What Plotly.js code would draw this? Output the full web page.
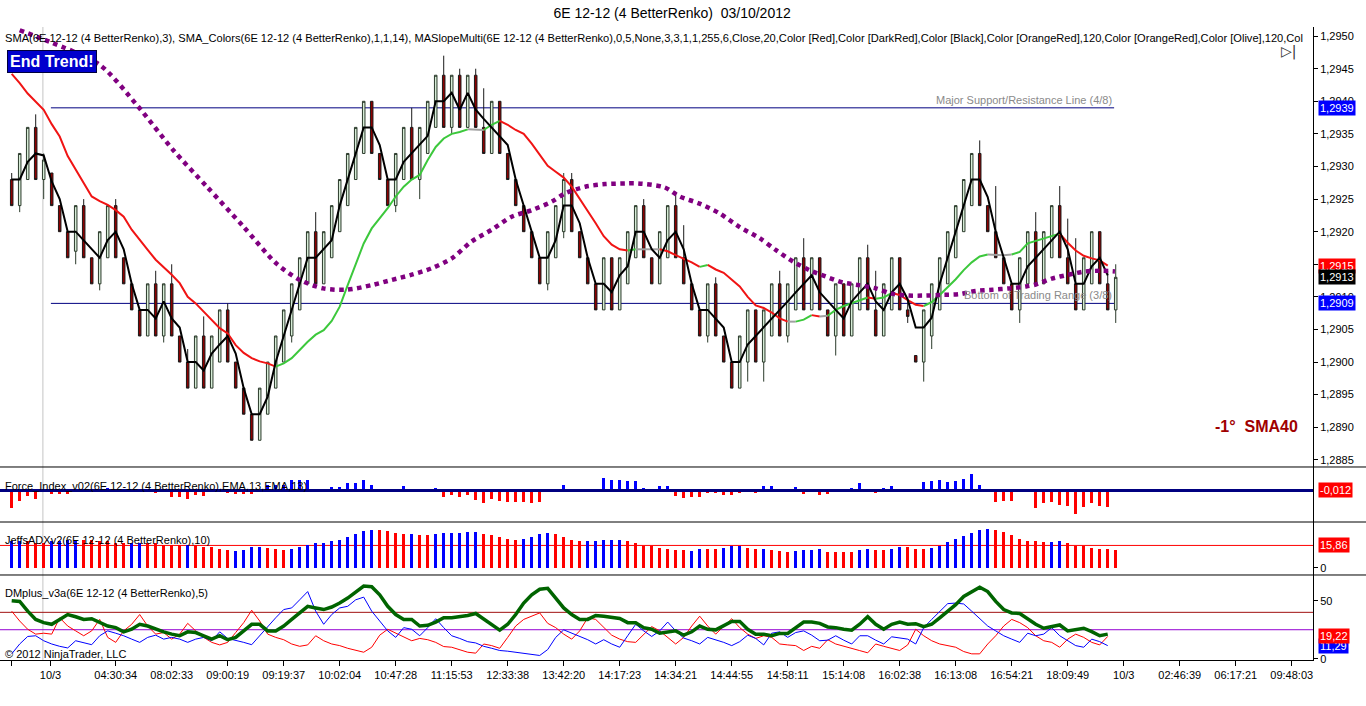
<!DOCTYPE html>
<html>
<head>
<meta charset="utf-8">
<script src="https://cdn.plot.ly/plotly-3.0.1.min.js"></script>
<style>
  html, body { margin: 0; padding: 0; background: #fff; }
  #chart { width: 1366px; height: 706px; }
</style>
</head>
<body>
<div id="chart"></div>
<script>
// ---- renko bars (6E 12-12, 4 tick BetterRenko) ----
const opens = [
  1.2928, 1.2924, 1.2928, 1.2936, 1.2928, 1.2929, 1.2924, 1.2920, 1.2917, 1.2924,
  1.2916, 1.2912, 1.2916, 1.2924, 1.2916, 1.2912, 1.2908, 1.2904, 1.2912, 1.2904,
  1.2912, 1.2904, 1.2900, 1.2896, 1.2904, 1.2896, 1.2900, 1.2908, 1.2900, 1.2896,
  1.2892, 1.2888, 1.2892, 1.2896, 1.2900, 1.2904, 1.2908, 1.2912, 1.2920, 1.2912,
  1.2916, 1.2920, 1.2924, 1.2928, 1.2932, 1.2940, 1.2932, 1.2928, 1.2924, 1.2928,
  1.2936, 1.2928, 1.2932, 1.2936, 1.2944, 1.2936, 1.2944, 1.2936, 1.2944, 1.2936,
  1.2932, 1.2940, 1.2932, 1.2928, 1.2924, 1.2920, 1.2916, 1.2912, 1.2916, 1.2920,
  1.2928, 1.2920, 1.2916, 1.2912, 1.2908, 1.2916, 1.2908, 1.2912, 1.2916, 1.2924,
  1.2916, 1.2912, 1.2916, 1.2924, 1.2916, 1.2912, 1.2908, 1.2904, 1.2912, 1.2904,
  1.2900, 1.2896, 1.2900, 1.2908, 1.2900, 1.2904, 1.2912, 1.2904, 1.2908, 1.2916,
  1.2908, 1.2916, 1.2908, 1.2904, 1.2912, 1.2904, 1.2908, 1.2916, 1.2908, 1.2904,
  1.2908, 1.2916, 1.2908, 1.2901, 1.2900, 1.2904, 1.2908, 1.2912, 1.2916, 1.2920,
  1.2924, 1.2932, 1.2924, 1.2920, 1.2916, 1.2912, 1.2908, 1.2912, 1.2920, 1.2912,
  1.2916, 1.2924, 1.2916, 1.2912, 1.2908, 1.2912, 1.2920, 1.2912, 1.2908
];
const highs = [
  1.2929, 1.2932, 1.2936, 1.2938, 1.2932, 1.2929, 1.2924, 1.2920, 1.2924, 1.2925,
  1.2916, 1.2920, 1.2924, 1.2925, 1.2916, 1.2912, 1.2908, 1.2912, 1.2914, 1.2912,
  1.2915, 1.2904, 1.2902, 1.2904, 1.2907, 1.2904, 1.2908, 1.2909, 1.2900, 1.2896,
  1.2892, 1.2896, 1.2900, 1.2904, 1.2908, 1.2912, 1.2916, 1.2920, 1.2923, 1.2920,
  1.2924, 1.2928, 1.2932, 1.2936, 1.2940, 1.2940, 1.2932, 1.2928, 1.2932, 1.2936,
  1.2939, 1.2936, 1.2940, 1.2944, 1.2947, 1.2944, 1.2945, 1.2944, 1.2945, 1.2942,
  1.2940, 1.2940, 1.2932, 1.2928, 1.2924, 1.2920, 1.2916, 1.2920, 1.2924, 1.2929,
  1.2929, 1.2920, 1.2916, 1.2912, 1.2916, 1.2916, 1.2916, 1.2920, 1.2924, 1.2925,
  1.2916, 1.2920, 1.2924, 1.2926, 1.2921, 1.2912, 1.2908, 1.2912, 1.2913, 1.2904,
  1.2900, 1.2904, 1.2908, 1.2908, 1.2908, 1.2912, 1.2914, 1.2912, 1.2916, 1.2919,
  1.2916, 1.2916, 1.2908, 1.2912, 1.2912, 1.2912, 1.2916, 1.2918, 1.2914, 1.2912,
  1.2916, 1.2916, 1.29095, 1.2901, 1.2908, 1.2912, 1.2916, 1.2920, 1.2924, 1.2928,
  1.2932, 1.2934, 1.2924, 1.2927, 1.2916, 1.2912, 1.2916, 1.2920, 1.2923, 1.2920,
  1.2924, 1.2927, 1.2922, 1.2919, 1.2916, 1.2920, 1.2920, 1.2914, 1.2915
];
const lows = [
  1.2924, 1.2923, 1.2928, 1.2928, 1.2925, 1.2924, 1.2920, 1.2916, 1.2915, 1.2916,
  1.2912, 1.2911, 1.2916, 1.2916, 1.2912, 1.2908, 1.2904, 1.2904, 1.2904, 1.2903,
  1.2904, 1.2900, 1.2896, 1.2896, 1.2896, 1.2896, 1.2900, 1.2900, 1.2896, 1.2892,
  1.2888, 1.2888, 1.2892, 1.2896, 1.2900, 1.2903, 1.2908, 1.2912, 1.2912, 1.2912,
  1.2916, 1.2920, 1.2924, 1.2928, 1.2932, 1.2932, 1.2928, 1.2924, 1.2923, 1.2928,
  1.2928, 1.2925, 1.2932, 1.2936, 1.2936, 1.2935, 1.2936, 1.2936, 1.2936, 1.2932,
  1.2932, 1.2932, 1.2928, 1.2924, 1.2920, 1.2916, 1.2912, 1.2911, 1.2916, 1.2919,
  1.2920, 1.2916, 1.2912, 1.2908, 1.2908, 1.2908, 1.2908, 1.2912, 1.2916, 1.2916,
  1.2912, 1.2912, 1.2916, 1.2916, 1.2912, 1.2908, 1.2904, 1.2903, 1.2904, 1.2900,
  1.2896, 1.2896, 1.2897, 1.2900, 1.2897, 1.2904, 1.2904, 1.2903, 1.2908, 1.2908,
  1.2908, 1.2908, 1.2904, 1.2901, 1.2904, 1.2904, 1.2908, 1.2908, 1.2904, 1.2904,
  1.2908, 1.2908, 1.2906, 1.2900, 1.2897, 1.2902, 1.2908, 1.2912, 1.2916, 1.2920,
  1.2924, 1.2924, 1.2920, 1.2916, 1.2912, 1.2908, 1.2906, 1.2912, 1.2912, 1.2912,
  1.2916, 1.2916, 1.2912, 1.2908, 1.2908, 1.2912, 1.2912, 1.2908, 1.2906
];
const closes = [
  1.2924, 1.2932, 1.2936, 1.2928, 1.2931, 1.2924, 1.2920, 1.2916, 1.2924, 1.2916,
  1.2912, 1.2920, 1.2924, 1.2916, 1.2912, 1.2908, 1.2904, 1.2912, 1.2904, 1.2912,
  1.2904, 1.2900, 1.2896, 1.2904, 1.2896, 1.2904, 1.2908, 1.2900, 1.2896, 1.2892,
  1.2888, 1.2896, 1.2900, 1.2904, 1.2908, 1.2912, 1.2916, 1.2920, 1.2912, 1.2920,
  1.2924, 1.2928, 1.2932, 1.2936, 1.2940, 1.2932, 1.2928, 1.2924, 1.2932, 1.2936,
  1.2928, 1.2936, 1.2940, 1.2944, 1.2936, 1.2944, 1.2936, 1.2944, 1.2936, 1.2932,
  1.2940, 1.2932, 1.2928, 1.2924, 1.2920, 1.2916, 1.2912, 1.2920, 1.2924, 1.2928,
  1.2920, 1.2916, 1.2912, 1.2908, 1.2916, 1.2908, 1.2916, 1.2920, 1.2924, 1.2916,
  1.2912, 1.2920, 1.2924, 1.2916, 1.2912, 1.2908, 1.2904, 1.2912, 1.2904, 1.2900,
  1.2896, 1.2904, 1.2908, 1.2900, 1.2908, 1.2912, 1.2904, 1.2912, 1.2916, 1.2908,
  1.2916, 1.2908, 1.2904, 1.2912, 1.2904, 1.2912, 1.2916, 1.2908, 1.2904, 1.2912,
  1.2916, 1.2908, 1.2907, 1.2900, 1.2908, 1.2912, 1.2916, 1.2920, 1.2924, 1.2928,
  1.2932, 1.2924, 1.2920, 1.2916, 1.2912, 1.2908, 1.2916, 1.2920, 1.2912, 1.2920,
  1.2924, 1.2916, 1.2912, 1.2908, 1.2916, 1.2920, 1.2912, 1.2908, 1.2913
];

// SMA(3) - black line
const sma3 = [
  1.2928, 1.2928, 1.29307, 1.2932, 1.29317, 1.29277, 1.2925, 1.2920, 1.2920, 1.29187,
  1.29173, 1.2916, 1.29187, 1.2920, 1.29173, 1.2912, 1.2908, 1.2908, 1.29067, 1.29093,
  1.29067, 1.29053, 1.2900, 1.2900, 1.28987, 1.29013, 1.29027, 1.2904, 1.29013, 1.2896,
  1.2892, 1.2892, 1.28947, 1.2900, 1.2904, 1.2908, 1.2912, 1.2916, 1.2916, 1.29173,
  1.29187, 1.2924, 1.2928, 1.2932, 1.2936, 1.2936, 1.29333, 1.2928, 1.2928, 1.29307,
  1.2932, 1.29333, 1.29347, 1.2940, 1.2940, 1.29413, 1.29387, 1.29413, 1.29387, 1.29373,
  1.2936, 1.29347, 1.29333, 1.2928, 1.2924, 1.2920, 1.2916, 1.2916, 1.29187, 1.2924,
  1.2924, 1.29213, 1.2916, 1.2912, 1.2912, 1.29107, 1.29133, 1.29147, 1.2920, 1.2920,
  1.29173, 1.2916, 1.29187, 1.2920, 1.29173, 1.2912, 1.2908, 1.2908, 1.29067, 1.29053,
  1.2900, 1.2900, 1.29027, 1.2904, 1.29053, 1.29067, 1.2908, 1.29093, 1.29107, 1.2912,
  1.29133, 1.29107, 1.29093, 1.2908, 1.29067, 1.29093, 1.29107, 1.2912, 1.29093, 1.2908,
  1.29107, 1.2912, 1.29096, 1.29053, 1.29053, 1.29068, 1.2912, 1.2916, 1.2920, 1.2924,
  1.2928, 1.2928, 1.29253, 1.2920, 1.2916, 1.2912, 1.2912, 1.29147, 1.2916, 1.29173,
  1.29187, 1.2920, 1.29173, 1.2912, 1.2912, 1.29147, 1.2916, 1.29133, null
];

// SMA_Colors(14) - red / green / grey line
const smaColors = [
  1.29442, 1.29428, 1.29412, 1.29399, 1.29387, 1.29365, 1.29346, 1.29316, 1.29295, 1.29273,
  1.29254, 1.29247, 1.29241, 1.29233, 1.29223, 1.29203, 1.29187, 1.29172, 1.29157, 1.29146,
  1.29134, 1.29121, 1.29100, 1.29090, 1.29077, 1.29065, 1.29052, 1.29044, 1.29026, 1.29014,
  1.29006, 1.29001, 1.28998, 1.28993, 1.28998, 1.29006, 1.29019, 1.29031, 1.29042, 1.29049,
  1.29063, 1.29085, 1.29118, 1.29151, 1.29182, 1.29205, 1.29220, 1.29236, 1.29254, 1.29269,
  1.29280, 1.29287, 1.29310, 1.29330, 1.29343, 1.29350, 1.29353, 1.29357, 1.29357, 1.29356,
  1.29364, 1.29370, 1.29364, 1.29356, 1.29350, 1.29335, 1.29318, 1.29301, 1.29292, 1.29283,
  1.29269, 1.29251, 1.29231, 1.29213, 1.29193, 1.29180, 1.29173, 1.29171, 1.29173, 1.29173,
  1.29173, 1.29173, 1.29170, 1.29164, 1.29159, 1.29153, 1.29146, 1.29149, 1.29142, 1.29137,
  1.29126, 1.29116, 1.29100, 1.29087, 1.29083, 1.29076, 1.29067, 1.29062, 1.29062, 1.29065,
  1.29072, 1.29070, 1.29071, 1.29080, 1.29086, 1.29090, 1.29095, 1.29099, 1.29097, 1.29099,
  1.29106, 1.29103, 1.29095, 1.29088, 1.29086, 1.29092, 1.29103, 1.29115, 1.29127, 1.29141,
  1.29153, 1.29162, 1.29165, 1.29164, 1.29164, 1.29165, 1.29169, 1.29182, 1.29186, 1.29190,
  1.29194, 1.29197, 1.29183, 1.29171, 1.29163, 1.29159, 1.29156, 1.29148, null
];

// MASlopeMulti - purple dotted line, read at these bar positions
const purpleX = [1, 4.8, 11.0, 15.8, 20.2, 24.4, 28.95, 33.1, 36.0, 38.95, 41.9,
  45, 47.5, 50, 52.5, 55, 57.5, 60, 62.5, 65, 67.5, 69.2, 71.7, 74.2, 76.7, 78.3, 81.6,
  83.5, 86, 88.5, 91, 93.5, 95.5, 97.7, 99.7, 101.8, 103.9, 105.9, 108, 110, 112.1, 114.2, 116.3,
  118.4, 120.5, 122.6, 124.7, 126.8, 128, 130, 132.1, 134.2, 136.3, 137.9];
const purpleY = [1.29509, 1.29491, 1.29456, 1.29392, 1.29325, 1.29269, 1.29208, 1.29151, 1.29126, 1.29113, 1.29111,
  1.29118, 1.29126, 1.29134, 1.29144, 1.29159, 1.29185, 1.29203, 1.29223, 1.29233, 1.29246,
  1.29259, 1.29269, 1.29273, 1.29274, 1.29274, 1.29268,
  1.29254, 1.29243, 1.29228, 1.29207, 1.29190, 1.29172, 1.29154, 1.29141, 1.29131, 1.29122, 1.29118,
  1.29113, 1.29105, 1.29102, 1.29102, 1.29103,
  1.29104, 1.29109, 1.29111, 1.29113, 1.29116, 1.29119, 1.29128, 1.29134, 1.29139, 1.29140, 1.29139];

// Force_Index_v02
const forceIdx = [
  -0.0127, -0.0074, -0.0038, -0.0060, 0, -0.0024, -0.0024, -0.0024, 0.0010, -0.0007,
  -0.0010, 0.0012, 0.0014, 0.0007, -0.0007, -0.0012, -0.0014, 0.0007, -0.0017, 0.0007,
  -0.0046, -0.0046, -0.0060, -0.0031, -0.0038, -0.0012, 0.0007, -0.0017, -0.0024, -0.0024,
  -0.0024, 0.0012, 0.0041, 0.0041, 0.0041, 0.0077, 0.0072, 0.0072, 0.0002, 0,
  0.0022, 0.0022, 0.0050, 0.0050, 0.0072, 0.0041, 0.0012, 0, 0.0012, 0.0029,
  0.0005, 0.0007, 0.0012, 0.0019, -0.0048, -0.0031, -0.0048, -0.0031, -0.0067, -0.0091,
  -0.0060, -0.0072, -0.0079, -0.0084, -0.0084, -0.0091, -0.0084, 0.0012, 0.0012, 0.0041,
  0, 0, 0.0002, -0.0007, 0.0091, 0.0072, 0.0072, 0.0065, 0.0065, 0.0019,
  0.0012, 0.0029, 0.0034, -0.0041, -0.0053, -0.0048, -0.0048, -0.0017, -0.0017, -0.0031,
  -0.0031, -0.0017, 0, -0.0017, 0.0034, 0.0034, 0, 0.0012, 0.0026, -0.0024,
  0, -0.0031, -0.0024, 0.0012, 0, 0.0019, 0.0053, 0, -0.0019, 0.0019,
  0.0029, 0.0010, 0, 0, 0.0060, 0.0067, 0.0072, 0.0060, 0.0065, 0.0084,
  0.0113, 0.0036, 0, -0.0084, -0.0077, -0.0077, 0, 0.0012, -0.0127, -0.0089,
  -0.0084, -0.0103, -0.0108, -0.0168, -0.0120, -0.0089, -0.0108, -0.0120, null
];

// JeffsADXv2(10) - value and trend direction (1 up, -1 down)
const adx = [
  18.7, 18.7, 18.7, 17.5, 17.5, 18.7, 18.7, 19.9, 19.9, 19.9,
  19.9, 18.7, 18.7, 17.5, 17.5, 17.5, 17.5, 17.5, 17.5, 16.3,
  16.3, 16.3, 16.3, 16.3, 15.1, 15.1, 13.4, 12.7, 12.0, 12.7,
  15.1, 15.1, 14.4, 13.4, 12.7, 13.4, 15.1, 16.3, 17.5, 17.5,
  18.7, 19.9, 21.6, 24.0, 26.4, 27.1, 27.1, 25.9, 24.7, 24.0,
  24.0, 23.0, 23.0, 24.0, 24.7, 24.7, 24.7, 25.4, 25.4, 24.0,
  23.0, 21.6, 20.4, 19.7, 20.4, 21.6, 24.0, 24.7, 24.0, 21.6,
  19.7, 18.7, 18.7, 19.2, 19.9, 19.9, 19.9, 18.7, 17.5, 15.6,
  15.6, 14.4, 13.4, 12.7, 12.7, 12.2, 13.4, 13.4, 13.4, 13.9,
  15.6, 15.6, 14.4, 13.4, 13.4, 12.7, 12.0, 11.5, 12.0, 12.7,
  12.7, 13.2, 11.5, 11.5, 11.5, 11.5, 12.5, 13.4, 12.7, 12.7,
  13.4, 15.1, 15.1, 13.4, 13.4, 14.4, 15.8, 18.0, 20.4, 22.3,
  24.7, 27.1, 27.8, 27.1, 25.4, 23.0, 20.6, 19.2, 18.7, 18.0,
  18.0, 18.7, 17.3, 15.8, 15.8, 13.9, 13.4, 13.0, 12.5
];
const adxDir = [
  1, 1, -1, -1, -1, 1, 1, 1, 1, -1,
  -1, -1, -1, -1, -1, 1, 1, -1, -1, -1,
  -1, -1, 1, -1, -1, -1, -1, -1, 1, 1,
  1, 1, -1, -1, -1, 1, 1, 1, 1, 1,
  1, 1, 1, 1, 1, 1, -1, -1, -1, -1,
  1, -1, -1, 1, 1, 1, 1, 1, 1, -1,
  -1, -1, -1, -1, 1, 1, 1, 1, -1, -1,
  -1, -1, 1, 1, 1, 1, 1, -1, -1, -1,
  -1, -1, -1, -1, -1, 1, 1, -1, -1, 1,
  1, 1, -1, -1, 1, -1, -1, -1, 1, 1,
  1, 1, -1, -1, -1, -1, 1, 1, -1, -1,
  1, 1, -1, -1, -1, 1, 1, 1, 1, 1,
  1, 1, 1, -1, -1, -1, -1, -1, -1, -1,
  1, 1, -1, -1, -1, -1, -1, -1, -1
];
const adxLevel = 15.86;

// DMplus_v3a(5)
const dmAdx = [
  50.0, 49.4, 41.0, 33.9, 31.1, 29.7, 33.9, 38.1, 36.2, 33.9,
  34.5, 31.1, 28.2, 26.8, 23.2, 25.4, 29.7, 28.2, 25.4, 23.2,
  21.2, 19.8, 23.2, 22.6, 19.8, 16.9, 19.8, 16.4, 18.4, 24.0,
  29.7, 29.7, 24.0, 24.0, 28.2, 33.9, 39.5, 45.2, 43.8, 42.4,
  44.6, 48.0, 52.3, 57.9, 62.7, 62.1, 55.1, 45.2, 38.1, 33.9,
  33.9, 28.2, 28.8, 31.6, 35.3, 35.3, 36.2, 37.3, 39.0, 33.9,
  28.8, 24.6, 29.7, 38.1, 48.0, 55.1, 59.9, 60.7, 52.3, 43.8,
  38.1, 33.9, 33.9, 37.3, 36.7, 35.9, 34.7, 31.1, 31.1, 26.8,
  25.4, 22.0, 23.2, 24.0, 20.3, 23.2, 28.2, 25.4, 24.9, 28.2,
  32.2, 32.2, 25.4, 21.2, 21.2, 19.8, 21.8, 21.8, 26.8, 31.6,
  31.6, 30.5, 27.4, 26.8, 25.4, 24.6, 29.7, 36.2, 29.7, 25.4,
  29.7, 31.6, 29.7, 30.2, 27.7, 29.7, 35.3, 41.0, 46.6, 53.7,
  57.9, 61.6, 57.9, 49.4, 42.4, 39.5, 39.0, 33.9, 29.7, 26.3,
  27.7, 29.1, 24.0, 25.4, 26.3, 23.4, 19.8, 21.2, null
];
const dmPlus = [
  4.2, 12.7, 19.2, 19.8, 15.5, 12.7, 10.7, 9.3, 15.5, 14.1,
  12.1, 19.8, 24.0, 22.0, 19.8, 16.9, 14.1, 18.4, 20.3, 16.9,
  18.4, 16.9, 14.1, 16.9, 18.4, 15.5, 23.2, 17.5, 16.1, 14.1,
  12.1, 19.8, 28.2, 35.3, 42.4, 43.8, 50.8, 57.9, 41.0, 29.7,
  38.1, 43.8, 45.2, 50.8, 53.1, 41.0, 32.5, 24.0, 18.4, 26.8,
  25.4, 19.8, 26.8, 34.5, 26.8, 19.8, 17.5, 14.7, 13.6, 10.7,
  9.0, 7.1, 6.5, 5.6, 4.8, 3.7, 2.8, 7.9, 18.4, 24.9,
  22.0, 19.2, 16.4, 12.7, 16.4, 12.7, 9.9, 19.8, 29.7, 24.0,
  19.2, 24.0, 31.6, 24.0, 17.8, 15.5, 12.7, 18.4, 16.4, 14.1,
  11.3, 14.7, 20.3, 17.5, 11.9, 22.0, 23.2, 18.4, 22.6, 24.0,
  20.3, 15.5, 16.0, 19.8, 16.0, 12.7, 19.8, 19.8, 16.0, 12.7,
  18.9, 18.0, 16.9, 12.7, 26.8, 33.9, 41.0, 47.5, 48.0, 47.2,
  41.0, 34.5, 28.2, 24.0, 19.8, 16.9, 14.1, 22.0, 19.8, 21.2,
  26.8, 19.8, 15.5, 11.3, 9.9, 16.9, 14.7, 11.29, null
];
const dmMinus = [
  41.0, 32.5, 25.4, 21.2, 22.0, 21.2, 35.3, 28.2, 24.0, 19.8,
  24.0, 33.9, 18.4, 14.1, 24.0, 29.7, 38.1, 28.2, 21.2, 22.6,
  16.9, 21.2, 30.5, 24.0, 18.4, 14.1, 11.9, 14.1, 22.6, 31.1,
  41.8, 32.5, 21.2, 18.4, 16.4, 12.7, 10.7, 11.9, 19.8, 15.5,
  12.7, 11.3, 9.0, 7.1, 5.6, 9.9, 20.3, 25.4, 22.0, 18.4,
  15.5, 17.5, 16.4, 14.1, 10.5, 9.9, 7.9, 5.6, 4.8, 12.7,
  11.3, 9.0, 18.4, 28.2, 33.9, 36.7, 39.5, 30.5, 26.8, 21.2,
  16.9, 24.0, 35.3, 33.9, 26.8, 20.3, 16.9, 14.7, 14.1, 21.2,
  27.7, 24.0, 18.4, 12.7, 18.4, 28.2, 36.7, 28.2, 21.2, 28.2,
  34.5, 26.8, 21.2, 17.5, 19.8, 18.4, 12.7, 11.9, 11.3, 7.1,
  10.7, 9.0, 16.4, 12.7, 11.0, 9.0, 7.0, 5.1, 12.7, 10.7,
  9.0, 7.1, 11.9, 25.4, 19.8, 15.5, 12.7, 11.3, 9.9, 6.2,
  4.2, 4.2, 12.7, 19.8, 28.2, 33.9, 31.1, 26.8, 19.8, 15.5,
  14.1, 9.9, 16.9, 21.2, 18.4, 14.1, 11.9, 19.22, null
];
const dmLevels = [40, 25];

// drawn levels on the price panel
const srLevels = [1.2939, 1.2909];
const srNames = ['Major Support/Resistance Line (4/8)', 'Bottom of Trading Range (3/8)'];
const srStart = 4.9, srEnd = 137.8;
const sessionBreak = 3.9;

// time axis
const tickIdx = [0, 4.85, 13, 20, 27, 34, 41, 48, 55, 62, 69, 76, 83, 90, 97, 104, 111, 118, 125, 132, 139, 146, 153, 160];
const tickText = ['', '10/3', '04:30:34', '08:02:33', '09:00:19', '09:19:37', '10:02:04', '10:47:28', '11:15:53',
  '12:33:38', '13:42:20', '14:17:23', '14:34:21', '14:44:55', '14:58:11', '15:14:08', '16:02:38', '16:13:08',
  '16:54:21', '18:09:49', '10/3', '02:46:39', '06:17:21', '09:48:03'];

const idx = closes.map((_, i) => i);
const FONT = 'Liberation Sans, Arial, sans-serif';
const comma = (v, d) => v.toFixed(d).replace('.', ',');
const lastOf = arr => arr.filter(v => v !== null).slice(-1)[0];

const traces = [];

// renko bricks
traces.push({
  type: 'candlestick', x: idx, open: opens, high: highs, low: lows, close: closes,
  xaxis: 'x', yaxis: 'y', hoverinfo: 'skip', whiskerwidth: 0,
  increasing: { line: { color: '#2b3a2b', width: 1 }, fillcolor: '#d6ecd6' },
  decreasing: { line: { color: '#1a1a1a', width: 1 }, fillcolor: '#8b0000' }
});

// SMA_Colors split into runs by slope
function slopeColor(a, b) {
  const d = b - a;
  if (Math.abs(d) < 0.00002) return '#a0a0a0';
  return d > 0 ? '#3cc83c' : '#f01414';
}
const runs = [];
for (let i = 0; i < smaColors.length - 1; i++) {
  if (smaColors[i] === null || smaColors[i + 1] === null) continue;
  const c = slopeColor(smaColors[i], smaColors[i + 1]);
  const last = runs[runs.length - 1];
  if (last && last.color === c && last.end === i) {
    last.end = i + 1;
  } else {
    runs.push({ color: c, start: i, end: i + 1 });
  }
}
runs.forEach(r => {
  traces.push({
    type: 'scatter', mode: 'lines', x: idx.slice(r.start, r.end + 1), y: smaColors.slice(r.start, r.end + 1),
    line: { color: r.color, width: 2 }, hoverinfo: 'skip', xaxis: 'x', yaxis: 'y'
  });
});

// SMA(3)
traces.push({
  type: 'scatter', mode: 'lines', x: idx, y: sma3, line: { color: '#000000', width: 2 },
  hoverinfo: 'skip', xaxis: 'x', yaxis: 'y'
});

// MASlopeMulti dotted
traces.push({
  type: 'scatter', mode: 'lines', x: purpleX, y: purpleY,
  line: { color: '#800080', width: 4.5, dash: 'dot', shape: 'spline', smoothing: 0.8 },
  hoverinfo: 'skip', xaxis: 'x', yaxis: 'y'
});

// Force index
traces.push({
  type: 'bar', x: idx, y: forceIdx, width: 0.4, hoverinfo: 'skip', xaxis: 'x', yaxis: 'y2',
  marker: { color: forceIdx.map(v => (v !== null && v >= 0) ? '#0000ff' : '#ff0000') }
});

// ADX histogram
traces.push({
  type: 'bar', x: idx, y: adx, width: 0.4, hoverinfo: 'skip', xaxis: 'x', yaxis: 'y3',
  marker: { color: adxDir.map(d => d > 0 ? '#0000ff' : '#ff0000') }
});

// DMplus lines
traces.push({ type: 'scatter', mode: 'lines', x: idx, y: dmMinus, line: { color: '#ff0000', width: 1 }, hoverinfo: 'skip', xaxis: 'x', yaxis: 'y4' });
traces.push({ type: 'scatter', mode: 'lines', x: idx, y: dmPlus, line: { color: '#0000ff', width: 1 }, hoverinfo: 'skip', xaxis: 'x', yaxis: 'y4' });
traces.push({ type: 'scatter', mode: 'lines', x: idx, y: dmAdx, line: { color: '#006400', width: 3.5 }, hoverinfo: 'skip', xaxis: 'x', yaxis: 'y4' });

// panel geometry (paper fractions of the plotting height)
const dMain = [0.3049, 1], dForce = [0.2180, 0.3049], dAdx = [0.1343, 0.2180], dDm = [0, 0.1343];
const rightEdge = 1366 / 1313;

const shapes = [];
srLevels.forEach(lv => shapes.push({
  type: 'line', xref: 'x', yref: 'y', x0: srStart, x1: srEnd, y0: lv, y1: lv,
  line: { color: '#000080', width: 1 }, layer: 'below'
}));
shapes.push({ type: 'line', xref: 'x', yref: 'paper', x0: sessionBreak, x1: sessionBreak, y0: 0, y1: 1,
  line: { color: '#c4c4c4', width: 1 }, layer: 'below' });
shapes.push({ type: 'line', xref: 'paper', yref: 'y2', x0: 0, x1: 1, y0: 0, y1: 0, line: { color: '#000080', width: 3 } });
shapes.push({ type: 'line', xref: 'paper', yref: 'y3', x0: 0, x1: 1, y0: adxLevel, y1: adxLevel, line: { color: '#ff0000', width: 1 }, layer: 'below' });
shapes.push({ type: 'line', xref: 'paper', yref: 'y4', x0: 0, x1: 1, y0: dmLevels[0], y1: dmLevels[0], line: { color: '#a01010', width: 1 }, layer: 'below' });
shapes.push({ type: 'line', xref: 'paper', yref: 'y4', x0: 0, x1: 1, y0: dmLevels[1], y1: dmLevels[1], line: { color: '#9400d3', width: 1 }, layer: 'below' });
[dMain[0], dForce[0], dAdx[0]].forEach(py => shapes.push({
  type: 'line', xref: 'paper', yref: 'paper', x0: 0, x1: rightEdge, y0: py, y1: py, line: { color: '#000000', width: 1 }
}));

const annotations = [];
const txt = (text, x, y, opts) => Object.assign({
  text, x, y, xref: 'paper', yref: 'paper', xanchor: 'left', yanchor: 'middle', showarrow: false,
  font: { family: FONT, size: 11, color: '#000000' }
}, opts || {});

annotations.push(txt('SMA(6E 12-12 (4 BetterRenko),3), SMA_Colors(6E 12-12 (4 BetterRenko),1,1,14), MASlopeMulti(6E 12-12 (4 BetterRenko),0,5,None,3,3,1,1,255,6,Close,20,Color [Red],Color [DarkRed],Color [Black],Color [OrangeRed],120,Color [OrangeRed],Color [Olive],120,Col',
  0.0023, 0.9826, { font: { family: FONT, size: 11.1, color: '#000000' } }));
annotations.push(txt('<b>End Trend!</b>', 0.0053, 0.9455, {
  bgcolor: '#0000cd', bordercolor: '#00003c', borderwidth: 1, borderpad: 2,
  font: { family: FONT, size: 16, color: '#ffffff' }
}));
srLevels.forEach((lv, k) => annotations.push({
  text: srNames[k], x: srEnd, y: lv, xref: 'x', yref: 'y', xanchor: 'right', yanchor: 'bottom', yshift: 0,
  showarrow: false, font: { family: FONT, size: 11, color: '#8a8a8a' }
}));
annotations.push(txt('<b>-1°  SMA40</b>', 0.9566, 0.3681, { xanchor: 'center', font: { family: FONT, size: 16, color: '#a00000' } }));
annotations.push(txt('Force_Index_v02(6E 12-12 (4 BetterRenko),EMA,13,EMA,13)', 0.0023, 0.2749));
annotations.push(txt('JeffsADXv2(6E 12-12 (4 BetterRenko),10)', 0.0023, 0.1896));
annotations.push(txt('DMplus_v3a(6E 12-12 (4 BetterRenko),5)', 0.0023, 0.1058));
annotations.push(txt('© 2012 NinjaTrader, LLC', 0.0023, 0.0095));
annotations.push(txt('▷|', 0.9815, 0.9620, { xanchor: 'center', font: { family: 'DejaVu Sans', size: 14, color: '#333333' } }));

// value tags on the right axis
const tag = (text, yref, y, bg) => ({
  text, x: 1, y, xref: 'paper', yref, xanchor: 'left', yanchor: 'middle', xshift: 5, showarrow: false,
  bgcolor: bg, borderpad: 1, font: { family: FONT, size: 11, color: '#ffffff' }
});
annotations.push(tag(comma(srLevels[0], 4), 'y', srLevels[0], '#0000ff'));
annotations.push(tag(comma(lastOf(smaColors), 4), 'y', lastOf(smaColors), '#ff0000'));
annotations.push(tag(comma(lastOf(closes), 4), 'y', lastOf(closes), '#000000'));
annotations.push(tag(comma(srLevels[1], 4), 'y', srLevels[1], '#0000ff'));
annotations.push(tag(comma(lastOf(forceIdx), 3), 'y2', 0, '#ff0000'));
annotations.push(tag(comma(adxLevel, 2), 'y3', adxLevel, '#ff0000'));
annotations.push(tag(comma(lastOf(dmPlus), 2), 'y4', lastOf(dmPlus), '#0000ff'));
annotations.push(tag(comma(lastOf(dmMinus), 2), 'y4', lastOf(dmMinus), '#ff0000'));

const yBase = {
  side: 'right', anchor: 'x', showgrid: false, zeroline: false, showline: true, linecolor: '#000000', linewidth: 1,
  ticks: 'outside', ticklen: 4, tickcolor: '#000000', tickfont: { family: FONT, size: 11, color: '#000000' },
  fixedrange: true
};

const layout = {
  width: 1366, height: 706,
  margin: { l: 0, r: 53, t: 27, b: 46 },
  paper_bgcolor: '#ffffff', plot_bgcolor: '#ffffff',
  separators: ', ',
  showlegend: false,
  boxgap: 0.55,
  bargap: 0,
  font: { family: FONT, size: 11, color: '#000000' },
  title: {
    text: '6E 12-12 (4 BetterRenko) \u00a003/10/2012', xref: 'container', yref: 'container',
    x: 0.492, y: 0.9816, xanchor: 'center', yanchor: 'middle',
    font: { family: FONT, size: 14, color: '#000000' }
  },
  xaxis: {
    domain: [0, 1], range: [-1.4625, 162.66], anchor: 'y4', showgrid: false, zeroline: false,
    showline: true, linecolor: '#000000', linewidth: 1, ticks: 'outside', ticklen: 5, tickcolor: '#000000',
    tickmode: 'array', tickvals: tickIdx, ticktext: tickText,
    tickfont: { family: FONT, size: 11, color: '#000000' },
    rangeslider: { visible: false }, fixedrange: true
  },
  yaxis: Object.assign({}, yBase, {
    domain: dMain, range: [1.28839, 1.29514], tick0: 1.2885, dtick: 0.0005, tickformat: '.4f'
  }),
  yaxis2: Object.assign({}, yBase, {
    domain: dForce, range: [-0.0223, 0.0166], showticklabels: false, ticks: ''
  }),
  yaxis3: Object.assign({}, yBase, {
    domain: dAdx, range: [-5, 32.4], tickmode: 'array', tickvals: [0]
  }),
  yaxis4: Object.assign({}, yBase, {
    domain: dDm, range: [-1.1, 72.2], tickmode: 'array', tickvals: [0, 50]
  }),
  shapes: shapes,
  annotations: annotations
};

Plotly.newPlot('chart', traces, layout, { displayModeBar: false, staticPlot: true });
</script>
</body>
</html>
